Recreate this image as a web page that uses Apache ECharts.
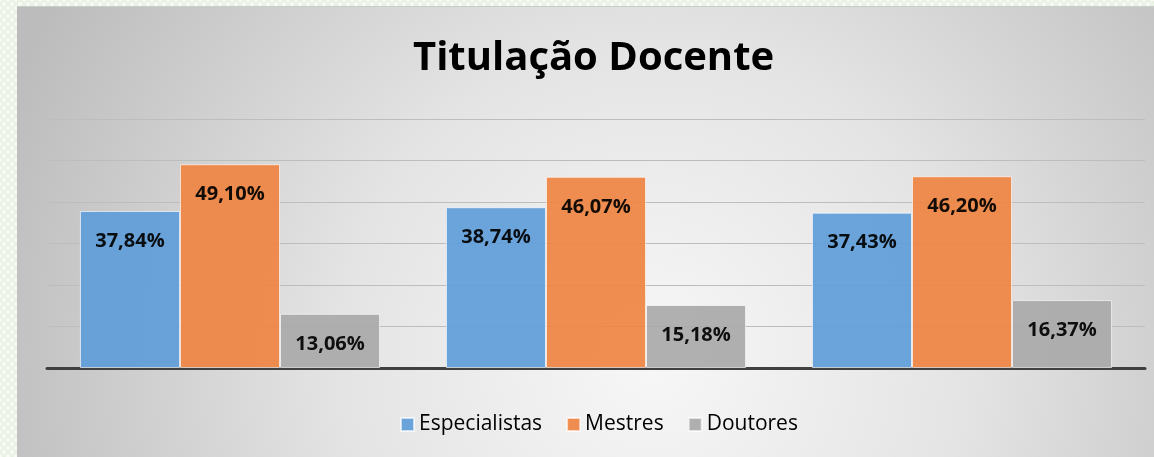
<!DOCTYPE html>
<html>
<head>
<meta charset="utf-8">
<script src="https://cdn.jsdelivr.net/npm/echarts@6/dist/echarts.min.js"></script>
<style>
  html, body { margin: 0; padding: 0; }
  body {
    width: 1154px; height: 457px; overflow: hidden;
    background-color: #eef4e8;
    background-image: repeating-radial-gradient(circle at 4px 4px, #f7faf4 0, #f7faf4 2px, #e3eddb 3px, #eef4e8 4px);
    background-size: 8px 8px;
    position: relative;
  }
  #chart {
    position: absolute; left: 17px; top: 6px;
    width: 1137px; height: 451px;
    border-top: 1px solid #c9cfc6;
    box-sizing: border-box;
  }
</style>
</head>
<body>
<div id="chart"></div>
<script>
// dados
const categorias = ['1', '2', '3'];
const especialistas = [37.84, 38.74, 37.43];
const mestres = [49.10, 46.07, 46.20];
const doutores = [13.06, 15.18, 16.37];

const chart = echarts.init(document.getElementById('chart'));

const fmt = (p) => p.value.toFixed(2).replace('.', ',') + '%';

const labelStyle = {
  show: true,
  position: 'insideTop',
  distance: 20,
  formatter: fmt,
  color: '#000',
  fontWeight: 'bold',
  fontSize: 20,
  fontFamily: 'Open Sans'
};

const barSeries = (name, data, color) => ({
  name: name,
  type: 'bar',
  data: data,
  barGap: '0%',
  barCategoryGap: '18%',
  itemStyle: { color: color, borderColor: 'rgba(255,255,255,0.7)', borderWidth: 1, opacity: 0.92 },
  label: labelStyle
});

chart.setOption({
  backgroundColor: new echarts.graphic.RadialGradient(0.56, 0.78, 1.55, [
    { offset: 0, color: '#f7f7f7' },
    { offset: 0.45, color: '#e4e4e4' },
    { offset: 1, color: '#bcbcbc' }
  ]),
  title: {
    text: 'Titulação Docente',
    left: 396,
    top: 32,
    padding: 0,
    textStyle: { fontFamily: 'Open Sans', fontWeight: 'bold', fontSize: 40, color: '#000' }
  },
  legend: {
    bottom: 17,
    left: 378,
    padding: 5,
    itemWidth: 13,
    itemHeight: 13,
    itemGap: 24,
    icon: 'rect',
    textStyle: { fontFamily: 'Open Sans', fontSize: 21, color: '#000' }
  },
  grid: { left: 30, right: 9, top: 112, bottom: 89 },
  xAxis: {
    type: 'category',
    data: categorias,
    axisLine: { lineStyle: { color: '#404040', width: 3 } },
    axisTick: { show: false },
    axisLabel: { show: false }
  },
  yAxis: {
    type: 'value',
    min: 0,
    max: 60,
    interval: 10,
    axisLabel: { show: false },
    axisLine: { show: false },
    axisTick: { show: false },
    splitLine: { lineStyle: { color: '#bdbdbd', width: 1 } }
  },
  series: [
    barSeries('Especialistas', especialistas, '#5f9dd8'),
    barSeries('Mestres', mestres, '#ee8441'),
    barSeries('Doutores', doutores, '#a9a9a9')
  ]
});
</script>
</body>
</html>
